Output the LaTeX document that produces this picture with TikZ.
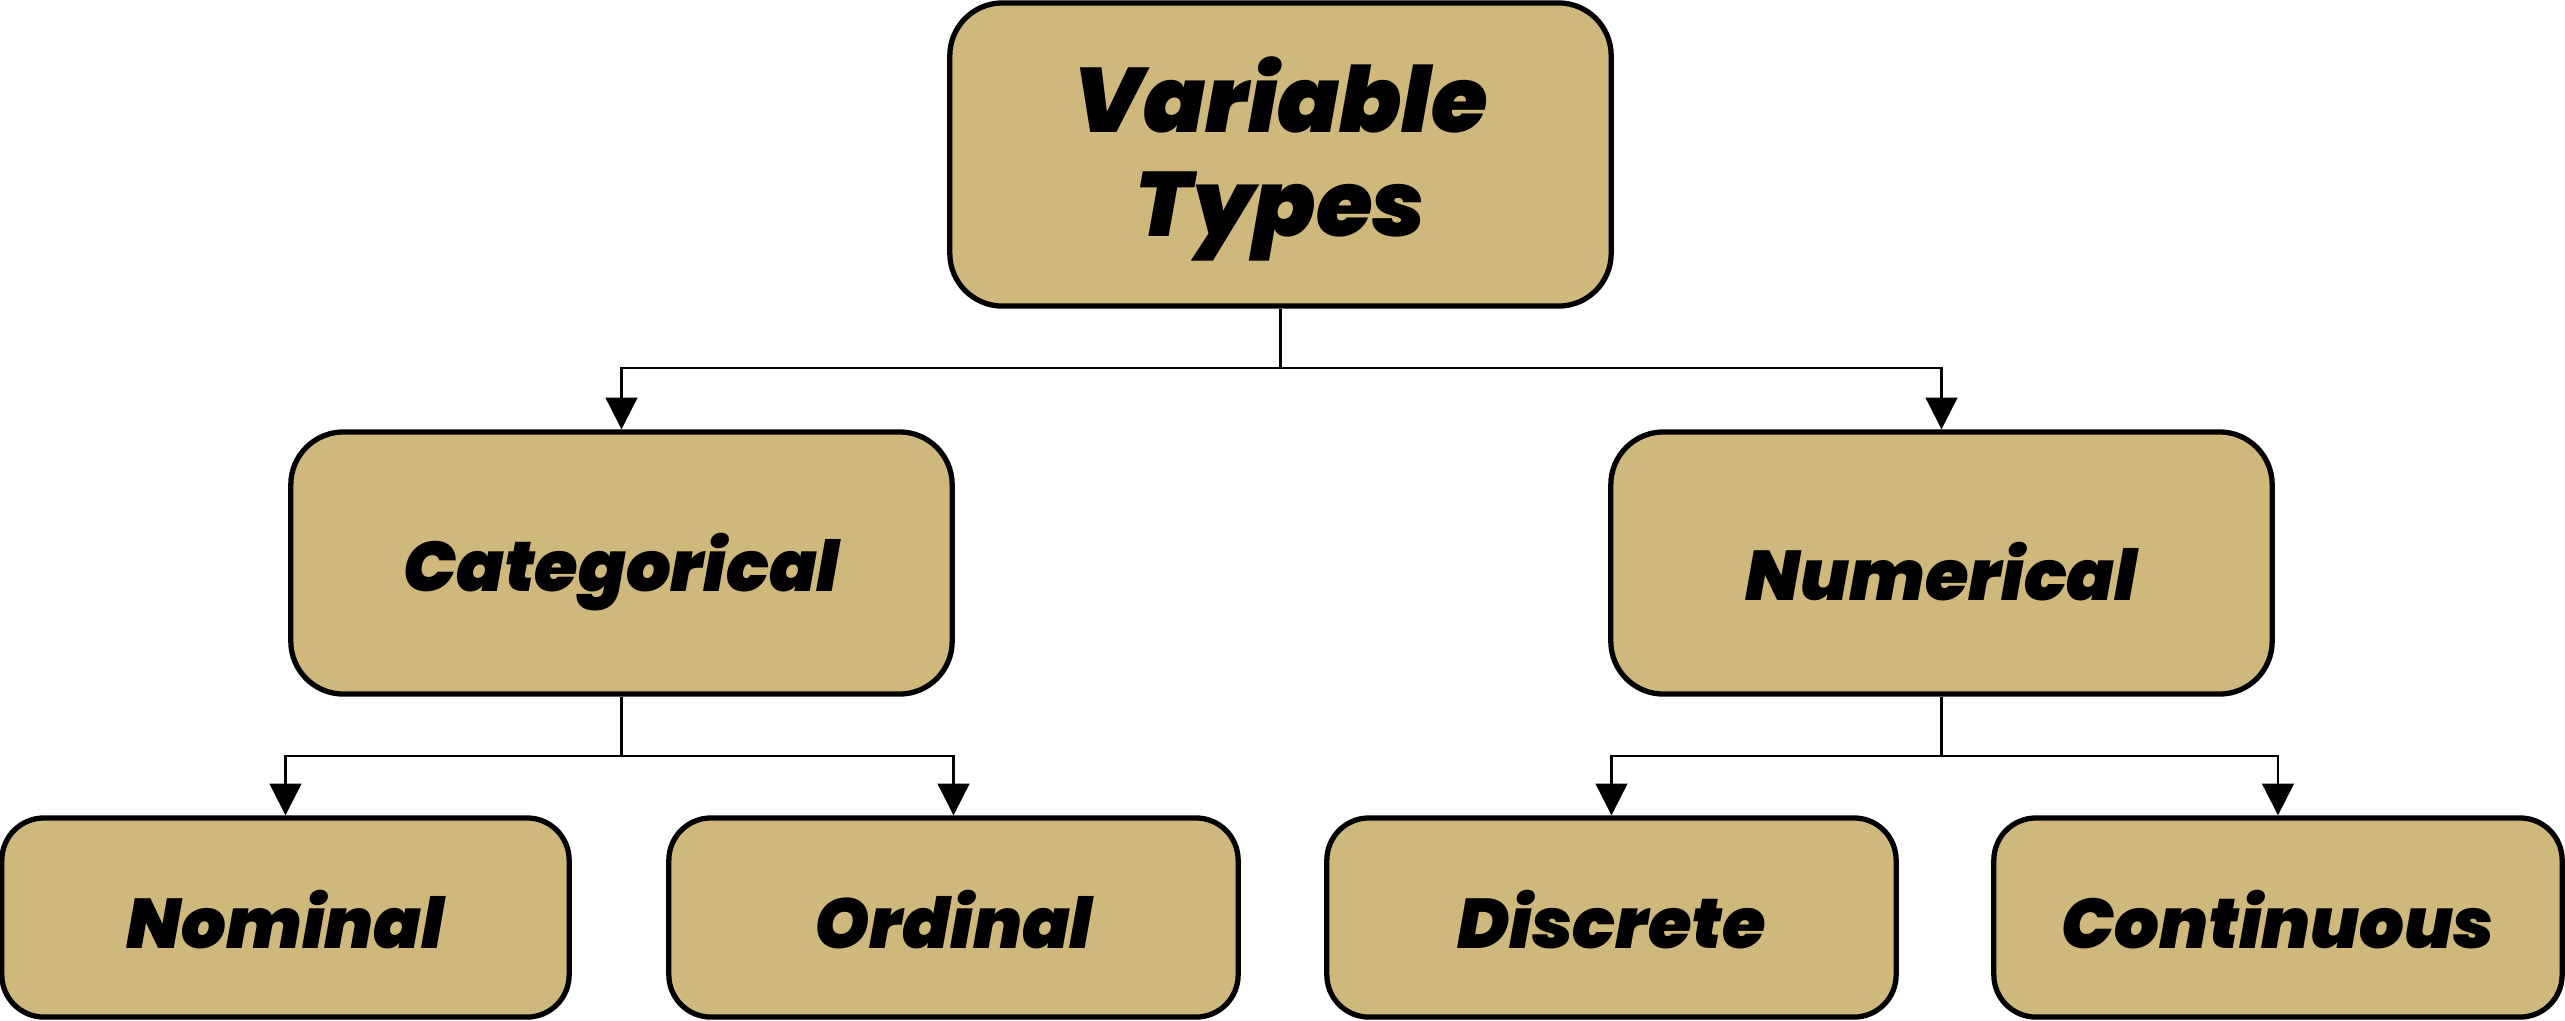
\documentclass[tikz,border=0pt]{standalone}
\usepackage{fontspec}
\newfontfamily\boxfont{Poppins Black Italic}
\usetikzlibrary{arrows.meta}
\definecolor{boxtan}{HTML}{CFB87C}
\tikzset{
  vbox/.style={draw=black, line width=1.5pt, fill=boxtan, rounded corners=15pt, inner sep=0pt},
  lowbox/.style={vbox, rounded corners=12pt, minimum height=1.99cm},
  bigtxt/.style={align=center, inner sep=0pt, font=\boxfont\fontsize{26}{29.6}\selectfont},
  midtxt/.style={align=center, inner sep=0pt, font=\boxfont\fontsize{20}{24}\selectfont},
  conn/.style={draw=black, line width=0.6pt, -{Triangle[length=9pt,width=9pt]}},
  connplain/.style={draw=black, line width=0.6pt},
}
\begin{document}
\begin{tikzpicture}[x=0.01cm,y=-0.01cm]
\useasboundingbox (0,0) rectangle (2565,1020);
\node[vbox, minimum width=6.61cm, minimum height=3.03cm] (root) at (1280.5,154.5) {};
\node[vbox, minimum width=6.61cm, minimum height=2.62cm] (cat) at (621.5,563) {};
\node[vbox, minimum width=6.61cm, minimum height=2.62cm] (num) at (1941.5,563) {};
\node[lowbox, minimum width=5.67cm] (nom) at (285.5,917.5) {};
\node[lowbox, minimum width=5.69cm] (ord) at (953.5,917.5) {};
\node[lowbox, minimum width=5.69cm] (dis) at (1611.5,917.5) {};
\node[lowbox, minimum width=5.68cm] (con) at (2278,917.5) {};
\node[bigtxt] (roott) at ([yshift=-1.3pt]root.center) {Variable\\Types};
\node[midtxt] (catt) at ([yshift=-2.5pt]cat.center) {Categorical};
\node[midtxt] (numt) at ([yshift=-2.5pt]num.center) {Numerical};
\node[midtxt] (nomt) at ([yshift=-0.6pt]nom.center) {Nominal};
\node[midtxt] (ordt) at ([yshift=-0.6pt]ord.center) {Ordinal};
\node[midtxt] (dist) at ([yshift=-0.6pt]dis.center) {Discrete};
\node[midtxt] (cont) at ([yshift=-0.6pt]con.center) {Continuous};
\coordinate (j0) at (1280.5,368);
\coordinate (j1) at (621.5,756);
\coordinate (j2) at (1941.5,756);
\draw[connplain] (root.south) -- (j0);
\draw[conn] (j0) -| (cat.north);
\draw[conn] (j0) -| (num.north);
\draw[connplain] (cat.south) -- (j1);
\draw[conn] (j1) -| (nom.north);
\draw[conn] (j1) -| (ord.north);
\draw[connplain] (num.south) -- (j2);
\draw[conn] (j2) -| (dis.north);
\draw[conn] (j2) -| (con.north);
\end{tikzpicture}
\end{document}
